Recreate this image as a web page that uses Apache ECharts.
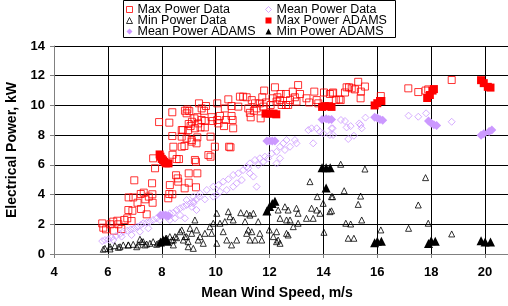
<!DOCTYPE html>
<html>
<head>
<meta charset="utf-8">
<script src="https://cdn.jsdelivr.net/npm/echarts@6/dist/echarts.min.js"></script>
<style>
  html, body { margin: 0; padding: 0; background: #fff; }
  #chart { width: 508px; height: 306px; }
</style>
</head>
<body>
<div id="chart"></div>
<script>
/* measured data, [wind speed m/s, power kW] */
var maxData = [
  [5.79,2.06],[5.83,1.77],[5.93,1.66],[6.09,2.0],[6.2,2.18],[6.35,2.24],[6.39,2.0],[6.23,1.57],[6.5,1.68],
  [6.61,2.29],[6.72,2.4],[6.76,2.96],[6.91,2.91],[6.88,2.22],[6.77,3.81],[6.94,3.81],[6.98,4.96],[7.1,3.45],
  [7.22,4.04],[7.33,4.13],[7.23,3.03],[7.44,2.67],[7.39,3.68],[7.52,3.86],[7.65,4.02],[7.64,4.76],[7.66,3.45],
  [7.68,6.44],[7.75,5.77],[7.9,8.88],[8.24,3.75],[8.28,4.04],[8.39,4.02],[8.3,4.64],[8.28,8.84],[8.39,9.54],
  [8.39,7.94],[8.43,7.22],[8.4,6.68],[8.55,6.39],[8.64,6.39],[8.53,5.3],[8.59,5.09],[8.61,4.87],[8.85,4.42],
  [9.0,5.43],[9.0,4.8],[8.74,7.22],[8.84,7.27],[8.74,7.9],[8.74,8.34],[8.92,7.78],[8.92,9.47],[9.02,9.62],
  [8.98,8.34],[9.0,8.75],[9.11,7.56],[9.23,6.33],[9.27,6.21],[9.27,4.49],[9.32,5.43],[9.12,8.9],[9.21,9.13],
  [9.23,8.46],[9.32,9.21],[9.38,10.14],[9.35,8.79],[8.86,9.64],[8.95,9.73],[8.78,8.34],[9.07,8.61],
  [9.48,9.8],[9.57,9.64],[9.64,9.96],[9.48,9.02],[9.6,8.95],[9.44,8.52],[9.6,8.52],[9.29,7.45],[9.11,7.67],
  [9.32,7.85],[9.85,9.21],[9.89,8.95],[9.81,7.9],[9.97,7.22],[9.73,6.66],[9.81,6.55],[10.06,10.14],[10.16,9.29],
  [10.06,9.02],[10.1,8.79],[10.34,9.8],[10.31,8.61],[10.38,9.02],[10.47,10.41],[10.59,9.29],[10.63,9.02],
  [10.65,8.46],[10.59,9.96],[10.5,7.22],[10.55,7.18],[10.84,9.92],[10.9,10.59],[11.02,10.59],[11.15,10.55],
  [11.21,9.8],[11.27,9.5],[11.3,9.2],[11.34,10.36],[11.46,10.14],[11.42,9.64],[11.52,9.8],[11.67,9.13],
  [11.64,10.14],[11.73,10.55],[11.77,9.92],[11.8,11.0],[11.87,10.2],[12.04,10.03],[12.11,10.48],[12.2,11.22],
  [12.26,10.26],[12.29,10.55],[12.39,10.36],[12.45,10.03],[12.41,10.77],[12.61,10.77],[12.61,10.03],
  [12.69,10.03],[12.76,10.36],[12.86,10.93],[12.94,10.55],[13.0,10.26],[13.06,11.37],[13.13,10.77],
  [13.37,10.48],[13.47,10.2],[13.66,10.93],[13.75,10.36],[13.81,10.14],[14.02,10.87],[14.24,10.77],
  [14.34,10.81],[14.46,10.36],[14.59,10.41],[14.36,10.87],[14.64,10.36],[14.8,10.87],[14.86,11.22],
  [14.95,11.22],[15.05,11.15],[15.17,11.08],[15.29,11.59],[15.39,10.93],[15.38,10.48],[15.54,11.27],
  [16.13,10.63],[17.15,11.15],[17.52,10.9],[17.79,11.0],[17.89,11.08],[18.76,11.71]
];
var meanData = [
  [5.79,0.87],[5.89,0.94],[6.02,0.99],[6.14,1.12],[6.3,1.21],[6.45,1.35],[6.57,1.5],[6.72,1.57],[6.85,1.66],
  [6.97,1.73],[7.09,1.84],[7.22,1.95],[7.31,2.07],[7.44,2.11],[7.56,2.18],[7.68,2.29],[7.81,2.4],[7.93,2.29],
  [8.18,2.51],[8.3,2.74],[8.43,2.78],[8.55,2.96],[8.68,3.08],[8.8,3.18],[8.92,3.3],[9.05,3.41],[9.17,3.52],
  [9.29,3.68],[9.39,3.86],[8.3,2.29],[8.49,2.4],[8.86,2.4],[9.29,2.96],[9.11,3.18],[8.68,2.62],
  [6.2,0.94],[6.51,1.17],[6.88,1.28],[7.19,1.5],[7.5,1.73],
  [8.92,3.63],[9.17,3.86],[9.42,4.08],[9.67,4.31],[9.91,4.53],[10.1,4.64],[10.28,4.87],[10.47,5.03],
  [10.65,5.32],[10.84,5.43],[11.02,5.65],[11.15,5.87],[11.27,6.1],[11.46,6.33],[11.64,6.44],[11.83,6.55],
  [12.08,6.77],[12.26,6.88],[12.39,7.22],[12.51,7.45],[12.57,7.0],[12.63,7.67],[12.76,7.22],[12.94,7.67],
  [13.0,7.45],[12.26,6.1],[12.39,6.44],[13.62,7.45],[13.44,8.34],[13.56,8.46],[13.75,8.46],[13.87,8.23],
  [13.99,8.12],[14.3,8.46],[14.24,8.01],[14.36,8.01],
  [11.27,5.43],[11.4,5.21],[11.52,4.53],[10.65,4.53],[10.97,4.98],[10.41,4.31],[10.16,4.19],[9.91,3.86],
  [9.6,3.68],[9.17,3.41],[10.04,3.97],[10.78,4.76],[11.21,5.77],[11.58,5.99],[11.77,6.21],[11.95,6.44],
  [14.3,9.06],[14.34,8.46],[14.65,9.02],[14.8,8.95],[14.86,8.52],[15.01,8.61],[14.92,7.74],[15.13,7.96],
  [15.33,8.79],[15.42,8.46],[15.38,8.68],[15.56,9.18],[17.16,9.31],[17.52,9.24],[17.81,9.47],[18.76,8.9]
];
var minData = [
  [5.89,0.38],[6.08,0.49],[6.26,0.56],[6.45,0.49],[6.57,0.61],[6.76,0.61],[6.94,0.65],[7.13,0.61],[7.25,0.83],
  [7.38,0.61],[7.56,0.72],[7.68,0.83],[7.81,0.65],[7.99,0.83],[8.18,1.06],[8.3,1.17],[8.43,0.94],[8.55,1.1],
  [5.83,0.32],[6.08,0.34],[6.39,0.45],[6.76,0.61],[7.07,0.49],[7.31,0.83],[7.44,0.67],[7.87,0.72],[8.12,0.94],
  [8.37,0.94],[8.49,1.17],[8.68,1.5],[8.92,1.17],[9.05,1.73],[9.23,2.29],[9.29,1.62],[9.35,0.94],[8.8,0.94],
  [8.98,0.49],[9.17,0.38],[8.43,0.61],[7.19,0.99],
  [8.74,1.62],[8.86,1.17],[8.98,0.83],[9.11,1.39],[9.42,1.17],[9.54,0.72],[9.6,1.39],[9.79,1.84],[9.91,2.07],
  [9.85,1.39],[10.04,0.72],[10.16,2.07],[10.34,2.18],[10.41,0.94],[10.53,2.51],[10.65,2.29],[10.59,0.61],
  [10.78,0.94],[10.93,2.78],[11.09,2.18],[11.15,2.74],[11.27,2.62],[11.4,2.74],[11.34,1.5],[11.21,1.62],
  [11.58,2.18],[11.64,1.39],[11.46,0.94],[11.27,0.94],[11.15,1.39],[11.71,0.94],[11.99,1.62],[12.26,1.5],
  [12.32,2.96],[12.39,2.4],[12.57,3.18],[12.63,2.29],[12.69,2.96],[12.76,2.29],[13.0,3.08],[13.06,2.74],
  [13.06,2.07],[12.88,1.84],[12.63,1.39],[12.32,0.94],[12.39,0.72],[12.14,1.17],[12.69,1.28],[12.26,0.83],
  [13.5,4.87],[13.37,2.4],[13.56,3.08],[13.62,2.4],[13.75,2.96],[13.77,3.86],[13.87,2.74],[13.99,3.41],
  [14.02,1.46],[14.3,3.86],[14.24,2.85],[10.47,2.85],[10.04,2.74],[10.28,1.5],
  [14.64,6.04],[15.54,5.72],[14.34,3.86],[14.77,4.26],[15.38,3.9],[15.29,3.34],[14.3,2.91],[14.83,2.07],
  [15.01,2.02],[15.42,2.29],[14.92,1.06],[15.13,1.06],[16.13,1.62],[17.16,1.73],[17.52,3.3],[17.79,5.14],
  [17.89,2.07],[18.76,1.35]
];
/* ADAMS simulation */
var maxAdams = [
  [7.92,6.7],[7.95,6.55],[8.0,6.4],[8.05,6.3],[8.1,6.2],[8.15,6.1],[8.25,6.1],
  [11.85,9.45],[12.0,9.45],[12.15,9.45],[12.25,9.4],
  [13.95,9.9],[14.05,9.95],[14.2,9.95],[14.3,9.9],
  [15.9,10.0],[16.0,10.15],[16.1,10.3],[16.15,10.3],
  [17.85,10.5],[17.95,10.7],[18.05,11.0],[18.1,11.1],
  [19.85,11.7],[19.95,11.5],[20.1,11.25],[20.2,11.2]
];
var meanAdams = [
  [7.95,2.6],[8.05,2.65],[8.15,2.6],[8.25,2.55],
  [11.9,7.6],[12.0,7.6],[12.1,7.6],[12.2,7.6],
  [13.95,9.05],[14.1,9.1],[14.2,9.05],[14.3,9.05],
  [15.9,9.2],[16.0,9.15],[16.1,9.05],[16.2,9.0],
  [17.9,8.95],[18.0,8.8],[18.1,8.7],[18.2,8.65],
  [19.85,8.0],[19.95,8.1],[20.15,8.25],[20.25,8.35]
];
var minAdams = [
  [7.95,0.8],[8.05,0.95],[8.15,1.0],[8.2,0.85],
  [11.9,2.9],[12.0,3.2],[12.1,3.4],[12.2,3.55],
  [13.95,5.8],[14.1,5.8],[14.25,5.8],[14.1,4.45],
  [15.9,0.75],[16.0,0.85],[16.15,0.85],
  [17.9,0.7],[18.0,0.9],[18.15,0.85],
  [19.85,0.9],[20.0,0.8],[20.2,0.8]
];

var RED = '#ff0000', LILAC = '#cc99ff', BLACK = '#000000';
var FONT = '"Liberation Sans", Arial, sans-serif';

var chart = echarts.init(document.getElementById('chart'));

function hollow (name, data, symbol, size, color) {
  return {
    name: name, type: 'scatter', data: data, symbol: symbol, symbolSize: size,
    itemStyle: { color: 'rgba(255,255,255,0)', borderColor: color, borderWidth: 1 },
    z: 2
  }
}
function solid (name, data, symbol, size, color) {
  return {
    name: name, type: 'scatter', data: data, symbol: symbol, symbolSize: size,
    itemStyle: { color: color, opacity: 1 },
    z: 3
  }
}
// legend entry with its own small icon
function key (name, icon, color, filled) {
  return {
    name: name, icon: icon,
    itemStyle: filled
      ? { color: color, borderWidth: 0 }
      : { color: '#fff', borderColor: color, borderWidth: 1 }
  }
}

var legendCommon = {
  orient: 'vertical', top: 3, padding: 0, itemGap: -2, itemWidth: 6, itemHeight: 6,
  textStyle: { fontFamily: FONT, fontSize: 12.5, lineHeight: 11, color: '#000' },
  z: 10
}

var option = {
  animation: false,
  backgroundColor: '#fff',
  grid: { left: 54, right: 0, top: 46, bottom: 52 },
  legend: [
    Object.assign({ left: 126, data: [
      key('Max Power Data', 'rect', RED, false),
      key('Min Power Data', 'triangle', BLACK, false),
      key('Mean Power ADAMS', 'diamond', LILAC, true)
    ] }, legendCommon),
    Object.assign({ left: 265, data: [
      key('Mean Power Data', 'diamond', LILAC, false),
      key('Max Power ADAMS', 'rect', RED, true),
      key('Min Power ADAMS', 'triangle', BLACK, true)
    ] }, legendCommon)
  ],
  graphic: [
    { type: 'rect', shape: { x: 123.5, y: 0.5, width: 272, height: 37 },
      style: { fill: '#fff', stroke: '#000', lineWidth: 1 }, z: 5 },
    { type: 'text', x: 277, y: 293,
      style: { text: 'Mean Wind Speed, m/s', font: 'bold 14px ' + FONT, fill: '#000',
               textAlign: 'center', textVerticalAlign: 'middle' } },
    { type: 'text', x: 12, y: 150, rotation: Math.PI / 2,
      style: { text: 'Electrical Power, kW', font: 'bold 14px ' + FONT, fill: '#000',
               textAlign: 'center', textVerticalAlign: 'middle' } }
  ],
  xAxis: {
    type: 'value', min: 4, max: 20.85, interval: 2,
    axisLine: { show: true, lineStyle: { color: '#808080', width: 1 } },
    axisTick: { show: true, length: 4, lineStyle: { color: '#808080' } },
    axisLabel: { margin: 12, fontFamily: FONT, fontSize: 13, fontWeight: 'bold', color: '#000', showMaxLabel: false },
    splitLine: { show: true, lineStyle: { color: '#000', width: 1 } }
  },
  yAxis: {
    type: 'value', min: 0, max: 14, interval: 2,
    axisLine: { show: true, lineStyle: { color: '#808080', width: 1 } },
    axisTick: { show: true, length: 4, lineStyle: { color: '#808080' } },
    axisLabel: { margin: 9, fontFamily: FONT, fontSize: 13, fontWeight: 'bold', color: '#000' },
    splitLine: { show: true, lineStyle: { color: '#000', width: 1 } }
  },
  series: [
    hollow('Max Power Data', maxData, 'rect', 7, RED),
    hollow('Mean Power Data', meanData, 'diamond', 7, LILAC),
    hollow('Min Power Data', minData, 'triangle', 6, BLACK),
    solid('Max Power ADAMS', maxAdams, 'rect', 8, RED),
    solid('Mean Power ADAMS', meanAdams, 'diamond', 9, LILAC),
    solid('Min Power ADAMS', minAdams, 'triangle', 9, BLACK)
  ]
};
chart.setOption(option);
</script>
</body>
</html>
